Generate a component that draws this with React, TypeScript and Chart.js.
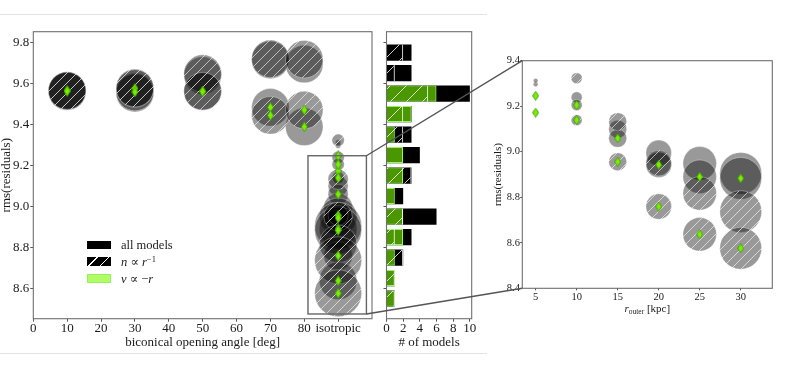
import React, { useEffect, useRef } from 'react';
import { Chart, registerables } from 'chart.js';

Chart.register(...registerables);

const SERIF = '"Liberation Serif", "DejaVu Serif", serif';

// ===== biconical models (r_outer = 25 kpc) =====
const biconicalAngle = [10, 10, 10, 10, 30, 30, 30, 30, 50, 50, 50, 50, 70, 70, 70, 70, 80, 80, 80, 80];
const biconicalRms = [
  9.563, 9.560, 9.565, 9.562,
  9.578, 9.552, 9.575, 9.558,
  9.648, 9.638, 9.562, 9.560,
  9.720, 9.714, 9.483, 9.444,
  9.718, 9.694, 9.470, 9.388,
];
const biconicalHatched = [1, 0, 1, 0, 1, 0, 1, 0, 1, 0, 1, 0, 1, 0, 0, 1, 1, 0, 1, 0];
const biconicalGreen = [0, 0, 1, 1, 0, 0, 1, 1, 0, 0, 1, 1, 0, 0, 1, 1, 0, 0, 1, 1];
const biconicalROuter = 25;

// ===== isotropic models =====
const isotropicX = 90;
const isoROuter = [5, 5, 5, 5, 10, 10, 10, 10, 15, 15, 15, 15, 20, 20, 20, 20, 25, 25, 25, 25, 30, 30, 30, 30];
const isoRms = [
  9.312, 9.296, 9.246, 9.172,
  9.323, 9.239, 9.205, 9.139,
  9.132, 9.099, 9.059, 8.956,
  8.995, 8.950, 8.943, 8.759,
  8.949, 8.890, 8.817, 8.637,
  8.905, 8.883, 8.737, 8.576,
];
const isoHatched = [1, 0, 0, 1, 1, 0, 0, 1, 1, 0, 0, 1, 0, 1, 0, 1, 0, 0, 1, 1, 0, 0, 1, 1];
const isoGreen = [0, 0, 1, 1, 0, 0, 1, 1, 0, 0, 1, 1, 0, 0, 1, 1, 0, 1, 0, 1, 0, 1, 0, 1];

// ===== histogram (# of models per rms bin) =====
const histBins = [9.75, 9.65, 9.55, 9.45, 9.35, 9.25, 9.15, 9.05, 8.95, 8.85, 8.75, 8.65, 8.55];
const histAll = [3, 3, 10, 3, 3, 4, 3, 2, 6, 3, 2, 1, 1];
const histVel = [0, 0, 6, 3, 1, 2, 2, 1, 2, 2, 1, 1, 1];
const histDens = [2, 1, 5, 2, 2, 0, 3, 0, 2, 1, 2, 1, 1];

// ===== axes =====
const angleRange = [0, 100];
const angleTicks = [0, 10, 20, 30, 40, 50, 60, 70, 80, 90];
const rmsRange = [8.452, 9.852];
const rmsTicks = [8.6, 8.8, 9.0, 9.2, 9.4, 9.6, 9.8];
const countRange = [0, 10.22];
const countTicks = [0, 2, 4, 6, 8, 10];
const rOuterRange = [3.37, 33.85];
const rOuterTicks = [5, 10, 15, 20, 25, 30];
const zoomRmsRange = [8.4, 9.4];
const zoomRmsTicks = [8.4, 8.6, 8.8, 9.0, 9.2, 9.4];
const zoomBoxAngle = [81.1, 98.35];
const zoomBoxRms = [8.475, 9.247];

// ===== styles =====
const FRAME = '#6f6f6f';
const TICK = '#555';
const TEXT = '#1a1a1a';
const CIRCLE = 'rgba(0,0,0,0.4)';
const RIM = 'rgba(255,255,255,0.3)';
const DIAMOND_FILL = '#76f000';
const DIAMOND_EDGE = '#3c9400';
const GREEN_BAR = 'rgba(124,252,0,0.6)';
const GREEN_EDGE = 'rgba(150,245,95,1)';

const sizeMain = (r: number) => 0.37 * Math.pow(r, 1.22);
const sizeZoom = (r: number) => 0.33 * Math.pow(r, 1.22);

function makeTile(bg: string, line: string, spacing: number, lw: number) {
  const c = document.createElement('canvas');
  c.width = spacing;
  c.height = spacing;
  const g = c.getContext('2d')!;
  if (bg) {
    g.fillStyle = bg;
    g.fillRect(0, 0, spacing, spacing);
  }
  g.strokeStyle = line;
  g.lineWidth = lw;
  g.beginPath();
  g.moveTo(-1, spacing + 1);
  g.lineTo(spacing + 1, -1);
  g.moveTo(-spacing / 2 - 1, spacing / 2 + 1);
  g.lineTo(spacing / 2 + 1, -spacing / 2 - 1);
  g.moveTo(spacing / 2 - 1, spacing * 1.5 + 1);
  g.lineTo(spacing * 1.5 + 1, spacing / 2 - 1);
  g.stroke();
  return c;
}

function makeDiamond(w: number, h: number) {
  const c = document.createElement('canvas');
  c.width = w;
  c.height = h;
  const g = c.getContext('2d')!;
  g.beginPath();
  g.moveTo(w / 2, 0.5);
  g.lineTo(w - 0.5, h / 2);
  g.lineTo(w / 2, h - 0.5);
  g.lineTo(0.5, h / 2);
  g.closePath();
  g.fillStyle = DIAMOND_FILL;
  g.fill();
  g.strokeStyle = DIAMOND_EDGE;
  g.lineWidth = 0.8;
  g.stroke();
  return c;
}

const framePlugin = {
  id: 'frame',
  afterDatasetsDraw(chart: any) {
    const { ctx, chartArea: a } = chart;
    ctx.save();
    ctx.strokeStyle = FRAME;
    ctx.lineWidth = 1.1;
    ctx.strokeRect(a.left, a.top, a.right - a.left, a.bottom - a.top);
    ctx.restore();
  },
};

function zeroPad(s: any) {
  s.paddingLeft = 0;
  s.paddingRight = 0;
  s.paddingTop = 0;
  s.paddingBottom = 0;
}

function makeAxis(o: {
  range: number[];
  ticks: number[];
  isX: boolean;
  size: number;
  fontSize: number;
  tickLen: number;
  pad: number;
  fmt?: (v: number) => string;
  showLabels?: boolean;
  title?: string;
  titleSize?: number;
  titlePad?: number;
}) {
  return {
    type: 'linear',
    min: o.range[0],
    max: o.range[1],
    offset: false,
    afterBuildTicks: (s: any) => {
      s.ticks = o.ticks.map((v) => ({ value: v }));
    },
    afterFit: (s: any) => {
      if (o.isX) s.height = o.size;
      else s.width = o.size;
      zeroPad(s);
    },
    grid: {
      display: true,
      drawOnChartArea: false,
      drawTicks: true,
      tickLength: o.tickLen,
      tickColor: TICK,
      tickWidth: 1,
      offset: false,
    },
    border: { display: false },
    ticks: {
      display: o.showLabels !== false,
      autoSkip: false,
      maxRotation: 0,
      minRotation: 0,
      padding: o.pad,
      color: TEXT,
      font: { family: SERIF, size: o.fontSize, lineHeight: 1 },
      callback: (v: any) => (o.fmt ? o.fmt(Number(v)) : String(v)),
    },
    title: o.title
      ? {
          display: true,
          text: o.title,
          color: TEXT,
          font: { family: SERIF, size: o.titleSize || 13, lineHeight: 1 },
          padding: { top: o.titlePad || 0, bottom: o.titlePad || 0 },
        }
      : { display: false },
  };
}

const baseOptions = (padding: any) => ({
  responsive: false,
  animation: false,
  devicePixelRatio: 1,
  events: [],
  layout: { padding, autoPadding: false },
  plugins: { legend: { display: false }, tooltip: { enabled: false } },
});

export default function App() {
  const c1 = useRef<HTMLCanvasElement>(null);
  const c2 = useRef<HTMLCanvasElement>(null);
  const c3 = useRef<HTMLCanvasElement>(null);
  const ov = useRef<HTMLCanvasElement>(null);

  useEffect(() => {
    const circleTile = makeTile(CIRCLE, 'rgba(255,255,255,0.6)', 10, 1);
    const barTile = makeTile('', 'rgba(255,255,255,0.8)', 16, 1);
    const diamondMain = makeDiamond(7, 11);
    const diamondZoom = makeDiamond(7, 10);

    // ----- panel 1 data -----
    const p1Plain: any[] = [];
    const p1Hatch: any[] = [];
    const p1Diam: any[] = [];
    biconicalAngle.forEach((a, i) => {
      const pt = { x: a, y: biconicalRms[i], r: sizeMain(biconicalROuter) };
      (biconicalHatched[i] ? p1Hatch : p1Plain).push(pt);
      if (biconicalGreen[i]) p1Diam.push({ x: a, y: biconicalRms[i], r: 4 });
    });
    isoROuter.forEach((ro, i) => {
      const pt = { x: isotropicX, y: isoRms[i], r: sizeMain(ro) };
      (isoHatched[i] ? p1Hatch : p1Plain).push(pt);
      if (isoGreen[i]) p1Diam.push({ x: isotropicX, y: isoRms[i], r: 4 });
    });

    // ----- panel 3 data -----
    const p3Plain: any[] = [];
    const p3Hatch: any[] = [];
    const p3Diam: any[] = [];
    isoROuter.forEach((ro, i) => {
      const pt = { x: ro, y: isoRms[i], r: sizeZoom(ro) };
      (isoHatched[i] ? p3Hatch : p3Plain).push(pt);
      if (isoGreen[i]) p3Diam.push({ x: ro, y: isoRms[i], r: 4 });
    });

    const ctx1 = c1.current!.getContext('2d')!;
    const ctx2 = c2.current!.getContext('2d')!;
    const ctx3 = c3.current!.getContext('2d')!;
    const pat1 = ctx1.createPattern(circleTile, 'repeat');
    const pat2 = ctx2.createPattern(barTile, 'repeat');
    const pat3 = ctx3.createPattern(circleTile, 'repeat');

    const ch1 = new Chart(c1.current!, {
      type: 'bubble',
      data: {
        datasets: [
          { data: p1Diam, pointStyle: diamondMain, backgroundColor: DIAMOND_FILL, borderWidth: 0, clip: 0 },
          { data: p1Hatch, backgroundColor: pat1, borderColor: RIM, borderWidth: 1, clip: 0 },
          { data: p1Plain, backgroundColor: CIRCLE, borderColor: RIM, borderWidth: 1, clip: 0 },
        ],
      },
      options: {
        ...baseOptions({ left: 0, right: 8, top: 31.7, bottom: 9.3 }),
        scales: {
          x: makeAxis({
            range: angleRange, ticks: angleTicks, isX: true, size: 40, fontSize: 13, tickLen: 3, pad: 0.2,
            fmt: (v) => (v === isotropicX ? 'isotropic' : String(v)),
            title: 'biconical opening angle [deg]', titleSize: 13, titlePad: 9.5,
          }),
          y: makeAxis({
            range: rmsRange, ticks: rmsTicks, isX: false, size: 33.3, fontSize: 13, tickLen: 3, pad: 1,
            fmt: (v) => v.toFixed(1), title: 'rms(residuals)', titleSize: 13, titlePad: 0,
          }),
        },
      } as any,
      plugins: [framePlugin],
    } as any);

    const histData = (vals: number[]) =>
      vals.map((v, i) => ({ x: v, y: histBins[i] })).filter((p) => p.x > 0);

    const ch2 = new Chart(c2.current!, {
      type: 'bar',
      data: {
        datasets: [
          {
            data: histData(histDens), backgroundColor: pat2, borderColor: 'rgba(255,255,255,0.9)',
            borderWidth: { top: 0, bottom: 0, left: 0, right: 1 }, borderSkipped: false,
            grouped: false, barPercentage: 0.8, categoryPercentage: 1,
          },
          {
            data: histData(histVel), backgroundColor: GREEN_BAR, borderColor: GREEN_EDGE,
            borderWidth: 1.2, grouped: false, barPercentage: 0.8, categoryPercentage: 1,
          },
          {
            data: histData(histAll), backgroundColor: '#000', borderWidth: 0,
            grouped: false, barPercentage: 0.8, categoryPercentage: 1,
          },
        ],
      },
      options: {
        ...baseOptions({ left: 0, right: 8.3, top: 31.7, bottom: 9.3 }),
        indexAxis: 'y',
        scales: {
          x: makeAxis({
            range: countRange, ticks: countTicks, isX: true, size: 40, fontSize: 13, tickLen: 3, pad: 0.2,
            title: '# of models', titleSize: 13, titlePad: 9.5,
          }),
          y: makeAxis({
            range: rmsRange, ticks: rmsTicks, isX: false, size: 6.5, fontSize: 13, tickLen: 3, pad: 0,
            showLabels: false,
          }),
        },
      } as any,
      plugins: [framePlugin],
    } as any);

    const ch3 = new Chart(c3.current!, {
      type: 'bubble',
      data: {
        datasets: [
          { data: p3Diam, pointStyle: diamondZoom, backgroundColor: DIAMOND_FILL, borderWidth: 0, clip: 0 },
          { data: p3Hatch, backgroundColor: pat3, borderColor: RIM, borderWidth: 1, clip: 0 },
          { data: p3Plain, backgroundColor: CIRCLE, borderColor: RIM, borderWidth: 1, clip: 0 },
        ],
      },
      options: {
        ...baseOptions({ left: 0, right: 16.7, top: 60.7, bottom: 49.7 }),
        scales: {
          x: makeAxis({
            range: rOuterRange, ticks: rOuterTicks, isX: true, size: 30, fontSize: 10.5, tickLen: 2, pad: 1.2,
          }),
          y: makeAxis({
            range: zoomRmsRange, ticks: zoomRmsTicks, isX: false, size: 42.3, fontSize: 10.5, tickLen: 2, pad: 0.4,
            fmt: (v) => v.toFixed(1), title: 'rms(residuals)', titleSize: 11, titlePad: 12.2,
          }),
        },
      } as any,
      plugins: [framePlugin],
    } as any);

    // ----- zoom box + connector lines -----
    const o = ov.current!.getContext('2d')!;
    o.clearRect(0, 0, 789, 368);
    const sx = (ch1 as any).scales.x;
    const sy = (ch1 as any).scales.y;
    const bx0 = sx.getPixelForValue(zoomBoxAngle[0]);
    const bx1 = sx.getPixelForValue(zoomBoxAngle[1]);
    const byTop = sy.getPixelForValue(zoomBoxRms[1]);
    const byBot = sy.getPixelForValue(zoomBoxRms[0]);
    const a3 = (ch3 as any).chartArea;
    const off3 = 480;
    o.strokeStyle = '#666';
    o.lineWidth = 1.4;
    o.strokeRect(bx0, byTop, bx1 - bx0, byBot - byTop);
    o.strokeStyle = '#555';
    o.lineWidth = 1.4;
    o.beginPath();
    o.moveTo(bx1, byTop);
    o.lineTo(off3 + a3.left, a3.top);
    o.moveTo(bx1, byBot);
    o.lineTo(off3 + a3.left, a3.bottom);
    o.stroke();

    return () => {
      ch1.destroy();
      ch2.destroy();
      ch3.destroy();
    };
  }, []);

  const abs = (s: any) => ({ position: 'absolute', ...s }) as React.CSSProperties;
  const legendText = (top: number) =>
    abs({ left: 121, top: top - 8, lineHeight: '16px', fontSize: 12.5, color: TEXT, whiteSpace: 'nowrap' });

  return (
    <div style={abs({ left: 0, top: 0, width: 789, height: 368, background: '#fff', overflow: 'hidden', fontFamily: SERIF })}>
      <div style={abs({ left: 0, top: 13.5, width: 487, height: 1.5, background: '#e3e3e3' })} />
      <div style={abs({ left: 0, top: 352.5, width: 487, height: 1.5, background: '#e3e3e3' })} />
      <canvas ref={c1} width={380} height={368} style={abs({ left: 0, top: 0, width: 380, height: 368 })} />
      <canvas ref={c2} width={100} height={368} style={abs({ left: 380, top: 0, width: 100, height: 368 })} />
      <canvas ref={c3} width={309} height={368} style={abs({ left: 480, top: 0, width: 309, height: 368 })} />
      <canvas ref={ov} width={789} height={368} style={abs({ left: 0, top: 0, width: 789, height: 368, pointerEvents: 'none' })} />

      {/* legend */}
      <div style={abs({ left: 87, top: 240.5, width: 24, height: 8.5, background: '#000' })} />
      <div style={legendText(245)}>all models</div>
      <div
        style={abs({
          left: 87, top: 257.3, width: 24, height: 8.5,
          background: 'repeating-linear-gradient(135deg, #000 0px, #000 7px, #fff 7px, #fff 8px)',
        })}
      />
      <div style={legendText(262)}>
        <i>n</i> ∝ <i>r</i>
        <sup style={{ fontSize: 8.5, verticalAlign: '0.5em', lineHeight: 0 }}>−1</sup>
      </div>
      <div
        style={abs({
          left: 87, top: 274.3, width: 24, height: 8.5, boxSizing: 'border-box',
          background: 'rgb(176,253,102)', border: '1px solid rgb(150,240,90)',
        })}
      />
      <div style={legendText(279)}>
        <i>v</i> ∝ −<i>r</i>
      </div>

      {/* zoom panel x label */}
      <div style={abs({ left: 547.3, top: 300.3, width: 200, lineHeight: '16px', textAlign: 'center', fontSize: 11, color: TEXT })}>
        <i>r</i>
        <sub style={{ fontSize: 7.5, verticalAlign: '-0.25em', lineHeight: 0 }}>outer</sub> [kpc]
      </div>
    </div>
  );
}
